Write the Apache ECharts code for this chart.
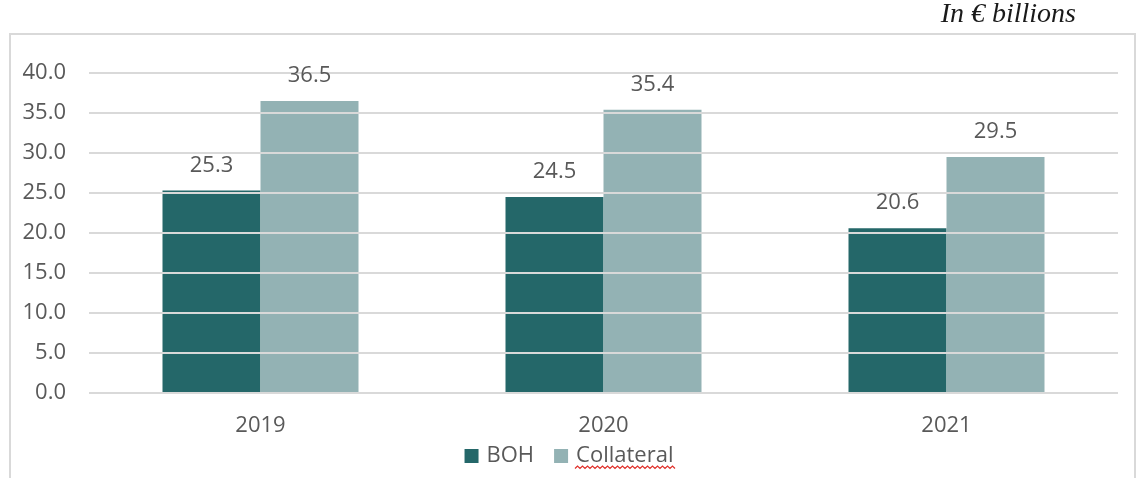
<!DOCTYPE html>
<html>
<head>
<meta charset="utf-8">
<script src="https://cdn.jsdelivr.net/npm/echarts@6/dist/echarts.min.js"></script>
<style>
  html, body { margin: 0; padding: 0; background: #ffffff; }
  #chart { width: 1138px; height: 478px; }
</style>
</head>
<body>
<div id="chart"></div>
<script>
// Chart data
const years = ['2019', '2020', '2021'];
const bohValues = [25.3, 24.5, 20.6];
const collateralValues = [36.5, 35.4, 29.5];
const seriesNames = ['BOH', 'Collateral'];
const unitNote = 'In \u20AC billions';

const textGrey = '#595959';
const gridGrey = '#d9d9d9';
const baseFont = '"Open Sans", "Noto Sans", sans-serif';
const barColors = ['#246769', '#93b2b4'];

const chart = echarts.init(document.getElementById('chart'), null, { renderer: 'canvas' });

// Red wavy underline under the legend word "Collateral"
const wavePoints = [];
for (let x = 575, i = 0; x <= 676; x += 2.5, i++) {
  wavePoints.push([x, i % 2 === 0 ? 468.5 : 466]);
}

const valueLabel = {
  show: true,
  position: 'top',
  distance: 14,
  color: textGrey,
  fontFamily: baseFont,
  fontSize: 22,
  formatter: p => p.value.toFixed(1)
};

// Filled bars sit on xAxis 0 below the gridlines; transparent copies on
// xAxis 1 carry the value labels above the gridlines.
function barSeries(name, data, color, axisIndex, withLabel, z) {
  return {
    name: name,
    type: 'bar',
    xAxisIndex: axisIndex,
    data: data,
    barWidth: 98,
    barGap: '0%',
    itemStyle: { color: color },
    label: withLabel ? valueLabel : { show: false },
    z: z,
    silent: withLabel
  };
}

const hiddenAxis = {
  type: 'category',
  data: years,
  show: false
};

chart.setOption({
  animation: false,
  backgroundColor: '#ffffff',
  textStyle: { fontFamily: baseFont },
  graphic: [
    {
      type: 'rect',
      shape: { x: 10, y: 34, width: 1125, height: 460 },
      style: { fill: 'none', stroke: gridGrey, lineWidth: 2 },
      z: 0
    },
    {
      type: 'text',
      right: 62,
      top: 1,
      style: {
        text: unitNote,
        fill: '#1a1a1a',
        font: 'italic 28px "Liberation Serif", "DejaVu Serif", serif'
      }
    },
    {
      type: 'polyline',
      shape: { points: wavePoints },
      style: { stroke: '#e0302a', lineWidth: 1.2, fill: 'none' },
      z: 10
    }
  ],
  legend: {
    data: seriesNames,
    bottom: 6,
    left: 'center',
    icon: 'rect',
    itemWidth: 14,
    itemHeight: 14,
    itemGap: 20,
    textStyle: { color: textGrey, fontSize: 22, fontFamily: baseFont, padding: [0, 0, 0, 3] }
  },
  grid: { left: 89, right: 20, top: 73, bottom: 85, containLabel: false },
  xAxis: [
    {
      type: 'category',
      data: years,
      axisLine: { show: false },
      axisTick: { show: false },
      axisLabel: { color: textGrey, fontSize: 22, fontFamily: baseFont, margin: 22 }
    },
    hiddenAxis
  ],
  yAxis: {
    type: 'value',
    min: 0,
    max: 40,
    interval: 5,
    z: 3,
    axisLine: { show: false },
    axisTick: { show: false },
    axisLabel: {
      color: textGrey,
      fontSize: 22,
      fontFamily: baseFont,
      margin: 23,
      formatter: v => v.toFixed(1)
    },
    splitLine: { lineStyle: { color: gridGrey, width: 2 } }
  },
  series: [
    barSeries(seriesNames[0], bohValues, barColors[0], 0, false, 2),
    barSeries(seriesNames[1], collateralValues, barColors[1], 0, false, 2),
    barSeries('BOH label', bohValues, 'rgba(0,0,0,0)', 1, true, 4),
    barSeries('Collateral label', collateralValues, 'rgba(0,0,0,0)', 1, true, 4)
  ]
});
</script>
</body>
</html>
